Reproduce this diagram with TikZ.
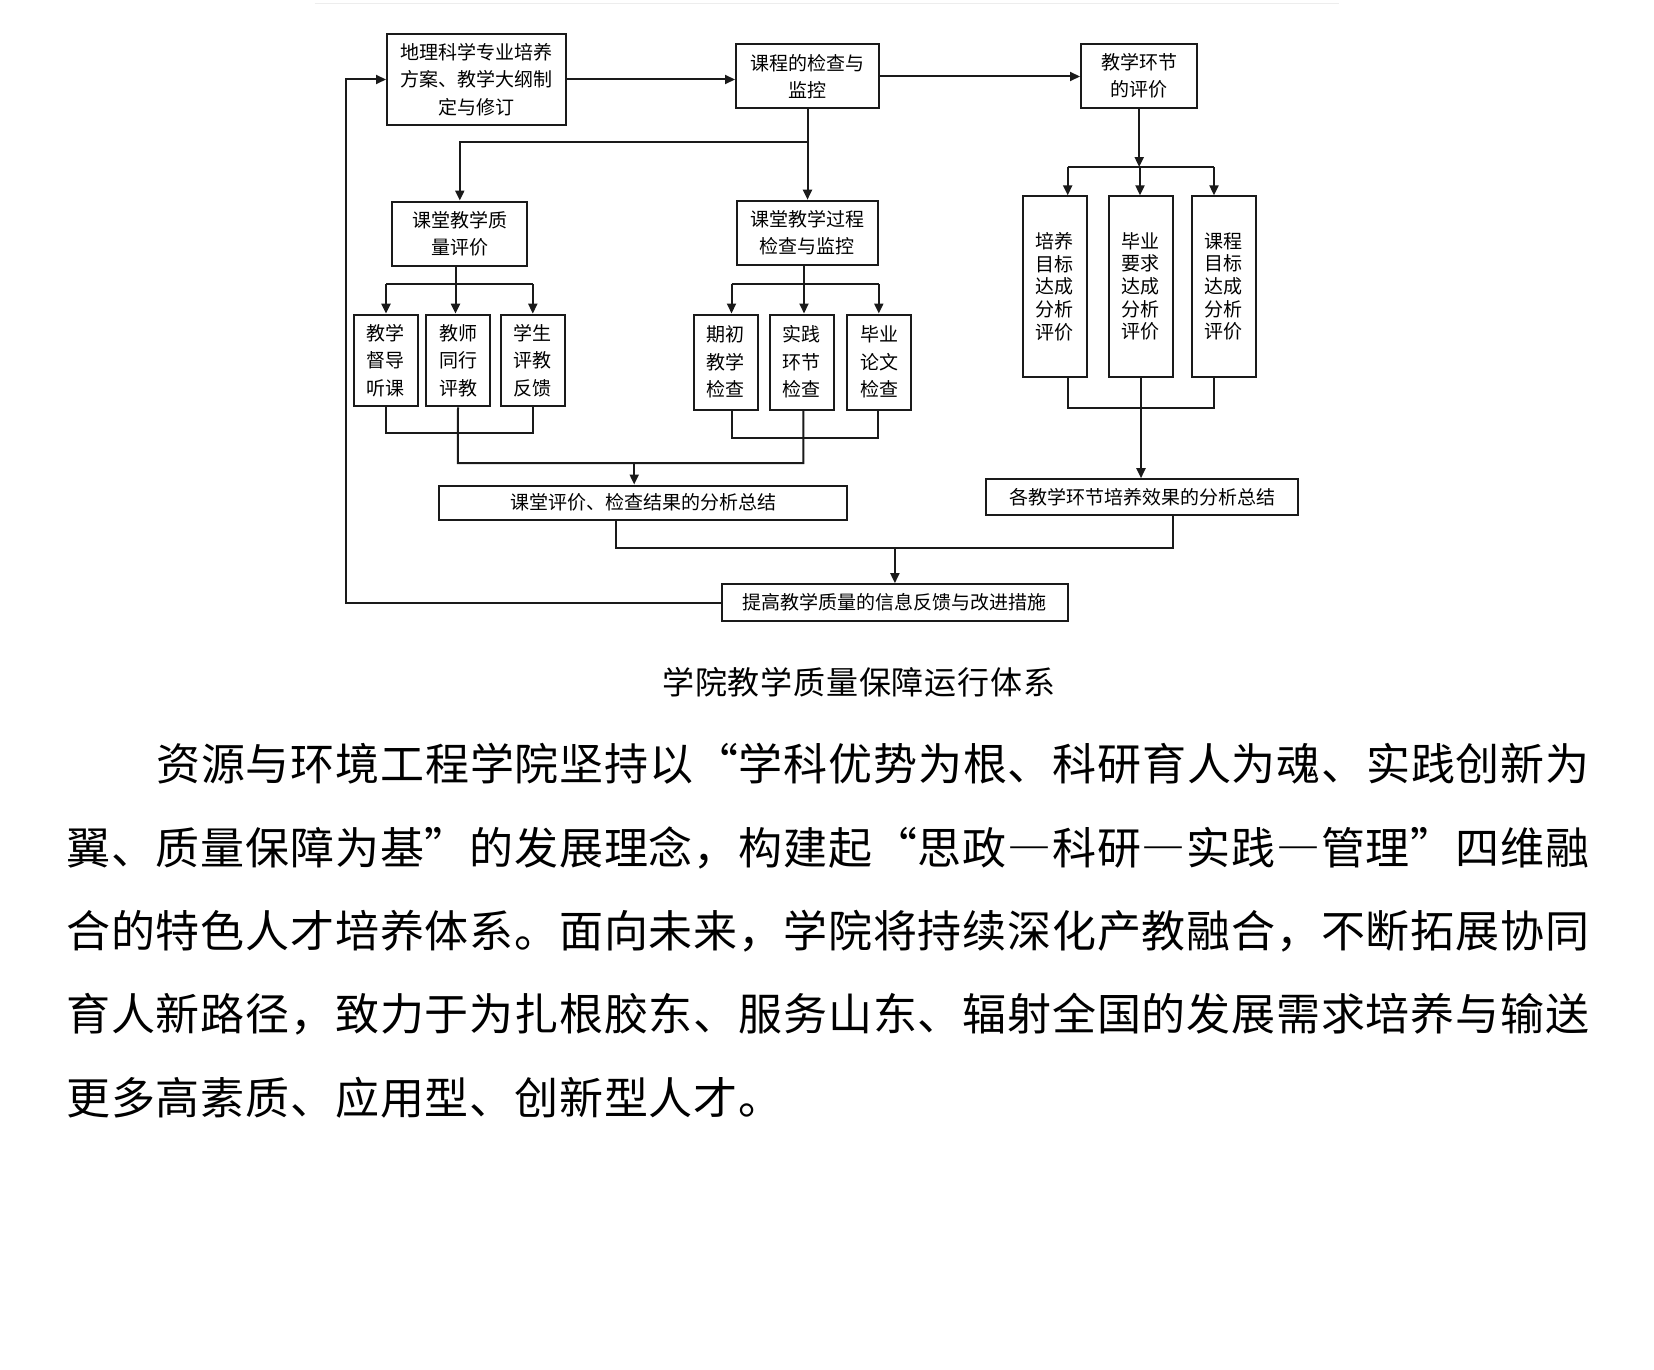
\documentclass[tikz,border=0pt]{standalone}
\usepackage{fontspec}
\setmainfont{Noto Sans CJK SC}
\newfontfamily\bodyfont[LetterSpace=1.85, RawFeature=+fwid]{Noto Sans CJK SC}
\newfontfamily\captionfont[LetterSpace=2.5]{Noto Sans CJK SC}
\usetikzlibrary{arrows.meta, positioning}
\definecolor{cline}{HTML}{1A1A1A}
\definecolor{crule}{HTML}{EDEDED}

\begin{document}
\begin{tikzpicture}[x=0.5pt, y=-0.5pt]
    \fill[white] (0,0) rectangle (1654,1370);
    \useasboundingbox (0,0) rectangle (1654,1370);
    \begin{scope}[
        box/.style={rectangle, draw=cline, line width=1pt, inner sep=0pt, align=center, font=\fontsize{9.5}{13.7}\selectfont},
        smallbox/.style={box, minimum width=32pt},
        tallbox/.style={box, minimum width=32pt, minimum height=90.15pt, font=\fontsize{9.5}{11.35}\selectfont},
        link/.style={draw=cline, line width=1pt},
        arrow/.style={link, -{Triangle[length=5pt, width=4.5pt]}},
        bodyline/.style={anchor=base west, inner sep=0pt, font=\bodyfont\fontsize{22}{22}\selectfont}
    ]
        \draw[crule, line width=0.6pt] (314.5,3.5) -- (1339,3.5);

        % ================= TOP ROW =================
        \node[box, minimum width=89.5pt, minimum height=45.75pt] (plan) at (476.5,79.5) {地理科学专业培养\\方案、教学大纲制\\定与修订};
        \node[box, minimum width=71.5pt, minimum height=32pt] (check) at (807.5,76.5) {课程的检查与\\监控};
        \node[box, minimum width=58.2pt, minimum height=32pt] (evalstep) at (1139.2,76) {教学环节\\的评价};
        \draw[arrow] (plan.east) -- (plan.east -| check.west);
        \draw[arrow] (check.east) -- (check.east -| evalstep.west);

        % ================= CLASSROOM BRANCH =================
        \node[box, minimum width=67.4pt, minimum height=32pt] (quality) at (459.8,233.5) {课堂教学质\\量评价};
        \node[box, minimum width=70.7pt, minimum height=32pt] (process) at (807.3,232.7) {课堂教学过程\\检查与监控};
        \coordinate (checkj) at (807.5,142);
        \draw[link] (check.south) -- (checkj);
        \draw[arrow] (checkj) -- (checkj |- process.north);
        \draw[arrow] (checkj) -| (quality.north);

        \node[smallbox, minimum height=45.85pt] (supervise) at (385.9,360.5) {教学\\督导\\听课};
        \node[smallbox, minimum height=45.85pt] (peer) at (458,360.5) {教师\\同行\\评教};
        \node[smallbox, minimum height=45.85pt] (student) at (532.8,360.5) {学生\\评教\\反馈};
        \coordinate (qj) at (455.5,284.3);
        \coordinate (ql) at (386,284.3);
        \coordinate (qr) at (532.8,284.3);
        \draw[link] (qj |- quality.south) -- (qj);
        \draw[link] (ql) -- (qr);
        \draw[arrow] (ql) -- (ql |- supervise.north);
        \draw[arrow] (qj) -- (qj |- peer.north);
        \draw[arrow] (qr) -- (qr |- student.north);

        \node[smallbox, minimum height=47.5pt] (initial) at (725.9,362) {期初\\教学\\检查};
        \node[smallbox, minimum height=47.5pt] (practice) at (801.5,362) {实践\\环节\\检查};
        \node[smallbox, minimum height=47.5pt] (thesis) at (879,362) {毕业\\论文\\检查};
        \coordinate (pj) at (804,284.3);
        \coordinate (pl) at (731.5,284.3);
        \coordinate (pr) at (878.8,284.3);
        \draw[link] (pj |- process.south) -- (pj);
        \draw[link] (pl) -- (pr);
        \draw[arrow] (pl) -- (pl |- initial.north);
        \draw[arrow] (pj) -- (pj |- practice.north);
        \draw[arrow] (pr) -- (pr |- thesis.north);

        \node[box, minimum width=204pt, minimum height=17pt] (classsum) at (643,502.5) {课堂评价、检查结果的分析总结};
        \coordinate (rowa) at (457.8,433.3);
        \coordinate (bl) at (731.5,437.7);
        \coordinate (br) at (878,437.7);
        \coordinate (mergel) at (457.8,463);
        \coordinate (merger) at (803.4,463);
        \coordinate (mergea) at (634.2,463);
        \draw[link] (supervise.south) |- (rowa) -| (student.south);
        \draw[link] (bl |- initial.south) -- (bl) -- (br) -- (br |- thesis.south);
        \draw[link] (peer.south) -- (mergel) -- (merger) -- (merger |- practice.south);
        \draw[arrow] (mergea) -- (mergea |- classsum.north);

        % ================= TEACHING STEP BRANCH =================
        \node[tallbox] (goal) at (1054.7,286.5) {培养\\目标\\达成\\分析\\评价};
        \node[tallbox] (require) at (1140.5,286.5) {毕业\\要求\\达成\\分析\\评价};
        \node[tallbox] (course) at (1223.5,286.5) {课程\\目标\\达成\\分析\\评价};
        \coordinate (evalj) at (1140,167);
        \coordinate (evall) at (1067.7,167);
        \coordinate (evalr) at (1214,167);
        \draw[arrow] (evalstep.south) -- (evalstep.south |- evalj);
        \draw[link] (evall) -- (evalr);
        \draw[arrow] (evall) -- (evall |- goal.north);
        \draw[arrow] (evalj) -- (evalj |- require.north);
        \draw[arrow] (evalr) -- (evalr |- course.north);

        \node[box, minimum width=156.2pt, minimum height=17.8pt] (stepsum) at (1142.2,497) {各教学环节培养效果的分析总结};
        \coordinate (tl) at (1068,408.3);
        \coordinate (tr) at (1214,408.3);
        \coordinate (tj) at (1141,408.3);
        \draw[link] (tl |- goal.south) -- (tl) -- (tr) -- (tr |- course.south);
        \draw[arrow] (tj |- require.south) -- (tj |- stepsum.north);

        % ================= FEEDBACK =================
        \node[box, minimum width=172.9pt, minimum height=18.35pt] (feedback) at (894.9,602.5) {提高教学质量的信息反馈与改进措施};
        \coordinate (suml) at (616.3,547.7);
        \coordinate (sumr) at (1172.7,547.7);
        \draw[link] (suml |- classsum.south) -- (suml) -- (sumr) -- (sumr |- stepsum.south);
        \draw[arrow] (feedback.north |- suml) -- (feedback.north);
        \coordinate (loopc) at (345.5,79.5);
        \draw[arrow] (feedback.west) -| (loopc) -- (plan.west);

        % ================= CAPTION AND TEXT =================
        \node[anchor=base, inner sep=0pt, font=\captionfont\fontsize{16}{16}\selectfont] (caption) at (858.7,694) {学院教学质量保障运行体系};
        \node[bodyline] (para1) at (156,780) {资源与环境工程学院坚持以“学科优势为根、科研育人为魂、实践创新为};
        \node[bodyline] (para2) at (66,864) {翼、质量保障为基”的发展理念，构建起“思政—科研—实践—管理”四维融};
        \node[bodyline] (para3) at (66,947) {合的特色人才培养体系。面向未来，学院将持续深化产教融合，不断拓展协同};
        \node[bodyline] (para4) at (66,1030) {育人新路径，致力于为扎根胶东、服务山东、辐射全国的发展需求培养与输送};
        \node[bodyline] (para5) at (66,1114) {更多高素质、应用型、创新型人才。};
    \end{scope}
\end{tikzpicture}
\end{document}
